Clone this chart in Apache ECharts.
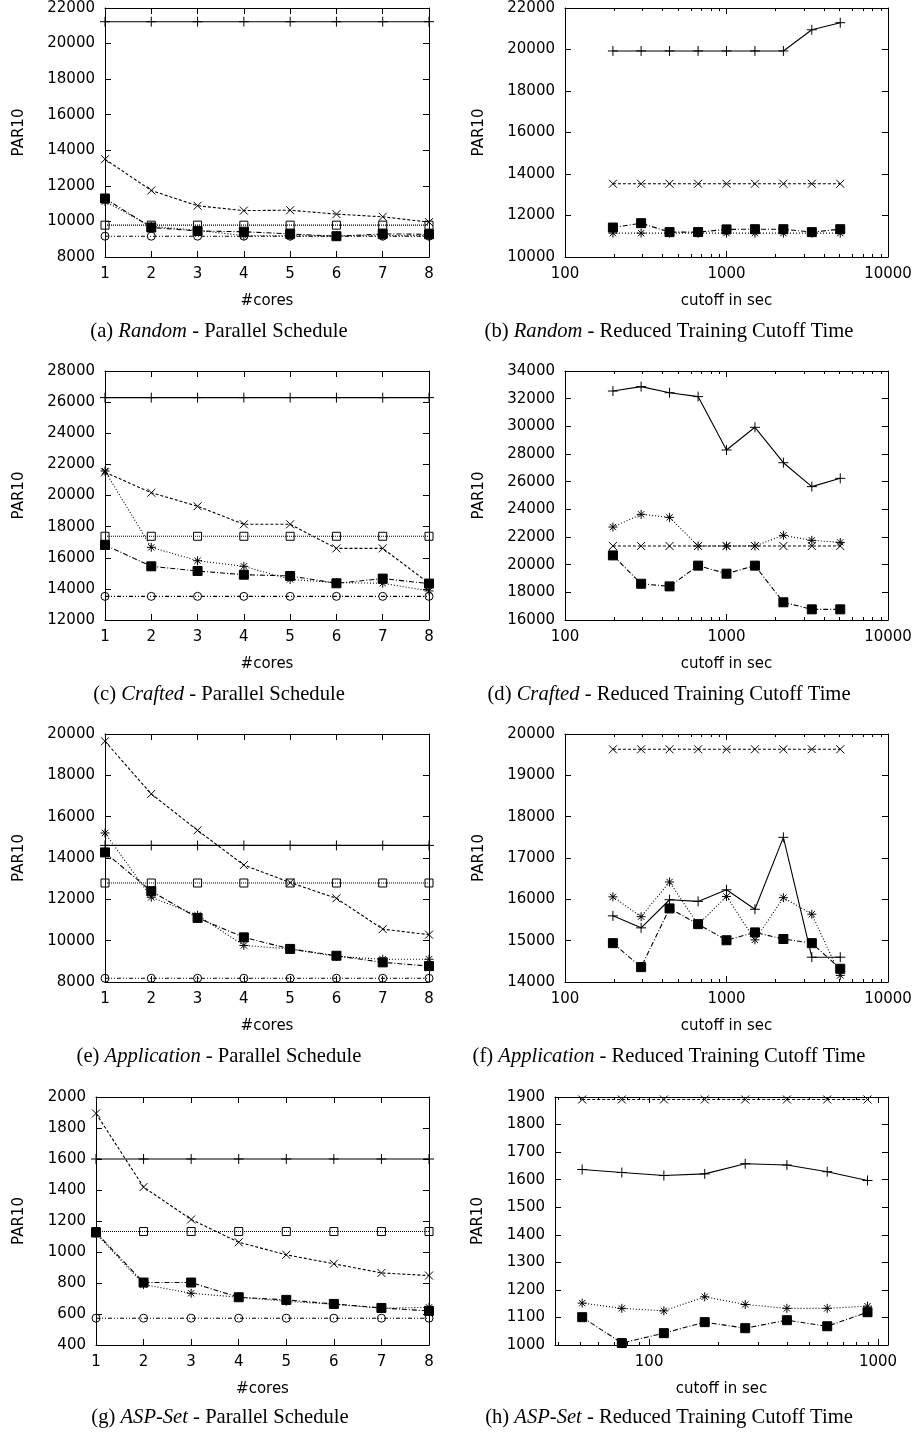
<!DOCTYPE html>
<html><head><meta charset="utf-8">
<script src="https://cdn.jsdelivr.net/npm/echarts@6/dist/echarts.min.js"></script>
<style>html,body{margin:0;padding:0;background:#fff}#c{width:917px;height:1433px}</style>
</head><body><div id="c"></div>
<script>
// ---------- x categories / tick values ----------
const coresX = [1, 2, 3, 4, 5, 6, 7, 8];
const cutoffX = [198, 296, 444, 667, 1000, 1500, 2250, 3375, 5063];
const cutoffXAsp = [51, 76, 116, 175, 263, 400, 600, 900];
const logMinorTicks = [40, 50, 60, 70, 80, 90, 200, 300, 400, 500, 600, 700, 800, 900,
  2000, 3000, 4000, 5000, 6000, 7000, 8000, 9000];

// ---------- (a) Random - Parallel Schedule ----------
const randomParPlus  = [21230, 21230, 21230, 21230, 21230, 21230, 21230, 21230];
const randomParCross = [13500, 11740, 10880, 10610, 10630, 10410, 10260, 9960];
const randomParStar  = [11120, 9720, 9500, 9200, 9190, 9190, 9200, 9200];
const randomParFSq   = [11290, 9660, 9460, 9420, 9300, 9170, 9300, 9280];
const randomParOSq   = [9790, 9790, 9790, 9790, 9790, 9790, 9790, 9790];
const randomParCirc  = [9170, 9170, 9170, 9170, 9170, 9170, 9170, 9170];

// ---------- (b) Random - Reduced Training Cutoff Time ----------
const randomCutPlus  = [19930, 19930, 19930, 19930, 19930, 19930, 19930, 20950, 21290];
const randomCutCross = [13530, 13530, 13530, 13530, 13530, 13530, 13530, 13530, 13530];
const randomCutStar  = [11150, 11150, 11150, 11150, 11150, 11150, 11150, 11150, 11150];
const randomCutFSq   = [11420, 11630, 11200, 11200, 11330, 11340, 11340, 11200, 11340];

// ---------- (c) Crafted - Parallel Schedule ----------
const craftedParPlus  = [26290, 26290, 26290, 26290, 26290, 26290, 26290, 26290];
const craftedParCross = [21490, 20180, 19310, 18150, 18150, 16600, 16600, 14360];
const craftedParStar  = [21570, 16670, 15810, 15450, 14610, 14400, 14360, 13870];
const craftedParFSq   = [16820, 15450, 15150, 14910, 14830, 14360, 14660, 14340];
const craftedParOSq   = [17380, 17380, 17380, 17380, 17380, 17380, 17380, 17380];
const craftedParCirc  = [13520, 13520, 13520, 13520, 13520, 13520, 13520, 13520];

// ---------- (d) Crafted - Reduced Training Cutoff Time ----------
const craftedCutPlus  = [32550, 32870, 32430, 32150, 28290, 29930, 27370, 25640, 26240];
const craftedCutCross = [21350, 21350, 21350, 21350, 21350, 21350, 21350, 21350, 21350];
const craftedCutStar  = [22720, 23640, 23420, 21350, 21350, 21350, 22120, 21760, 21610];
const craftedCutFSq   = [20670, 18620, 18430, 19930, 19350, 19930, 17280, 16770, 16770];

// ---------- (e) Application - Parallel Schedule ----------
const appParPlus  = [14610, 14610, 14610, 14610, 14610, 14610, 14610, 14610];
const appParCross = [19650, 17100, 15340, 13660, 12810, 12050, 10560, 10290];
const appParStar  = [15210, 12100, 11230, 9770, 9600, 9240, 9100, 9100];
const appParFSq   = [14270, 12390, 11100, 10160, 9600, 9270, 8950, 8770];
const appParOSq   = [12790, 12790, 12790, 12790, 12790, 12790, 12790, 12790];
const appParCirc  = [8180, 8180, 8180, 8180, 8180, 8180, 8180, 8180];

// ---------- (f) Application - Reduced Training Cutoff Time ----------
const appCutPlus  = [15600, 15310, 15990, 15950, 16230, 15760, 17500, 14600, 14600];
const appCutCross = [19630, 19630, 19630, 19630, 19630, 19630, 19630, 19630, 19630];
const appCutStar  = [16060, 15580, 16420, 15390, 16070, 15020, 16040, 15640, 14160];
const appCutFSq   = [14940, 14360, 15780, 15400, 15010, 15200, 15040, 14940, 14320];

// ---------- (g) ASP-Set - Parallel Schedule ----------
const aspParPlus  = [1600, 1600, 1600, 1600, 1600, 1600, 1600, 1600];
const aspParCross = [1894, 1419, 1210, 1063, 982, 924, 865, 848];
const aspParStar  = [1120, 790, 734, 708, 682, 663, 637, 643];
const aspParFSq   = [1126, 803, 803, 708, 691, 665, 639, 620];
const aspParOSq   = [1132, 1132, 1132, 1132, 1132, 1132, 1132, 1132];
const aspParCirc  = [573, 573, 573, 573, 573, 573, 573, 573];

// ---------- (h) ASP-Set - Reduced Training Cutoff Time ----------
const aspCutPlus  = [1637, 1626, 1615, 1621, 1658, 1653, 1629, 1597];
const aspCutCross = [1891, 1891, 1891, 1891, 1891, 1891, 1891, 1891];
const aspCutStar  = [1152, 1133, 1124, 1175, 1147, 1133, 1133, 1141];
const aspCutFSq   = [1101, 1007, 1043, 1083, 1061, 1090, 1068, 1119];

// ---------- styles ----------
const STY = {
  plus:  { symbol: 'path://M0,5L10,5M5,0L5,10', size: 10, fill: 'rgba(0,0,0,0)', dash: 'solid' },
  cross: { symbol: 'path://M0,0L10,10M10,0L0,10', size: 8, fill: 'rgba(0,0,0,0)', dash: [3, 2] },
  star:  { symbol: 'path://M0,5L10,5M5,0L5,10M1.5,1.5L8.5,8.5M8.5,1.5L1.5,8.5', size: 9, fill: 'rgba(0,0,0,0)', dash: [1, 2] },
  fsq:   { symbol: 'rect', size: 9, fill: '#000', dash: [5, 2, 1, 2] },
  osq:   { symbol: 'rect', size: 8, fill: 'rgba(0,0,0,0)', dash: [1, 1] },
  circ:  { symbol: 'circle', size: 8, fill: 'rgba(0,0,0,0)', dash: [4, 2, 1, 2, 1, 2] }
};

const FONT = { fontFamily: 'DejaVu Sans', fontSize: 15, color: '#000' };

const panels = [
  { grid: { left: 105, top: 8, width: 324, height: 249 }, log: false, xMin: 1, xMax: 8, yMin: 8000, yMax: 22000, yInt: 2000,
    xs: coresX, xName: '#cores', yGap: 78,
    series: [['plus', randomParPlus], ['cross', randomParCross], ['star', randomParStar], ['fsq', randomParFSq], ['osq', randomParOSq], ['circ', randomParCirc]],
    cap: { x: 219, y: 332, a: '(a) ', i: 'Random', b: ' - Parallel Schedule' } },
  { grid: { left: 565, top: 8, width: 323, height: 249 }, log: true, xMin: 100, xMax: 10000, yMin: 10000, yMax: 22000, yInt: 2000,
    xs: cutoffX, xName: 'cutoff in sec', yGap: 78,
    series: [['plus', randomCutPlus], ['cross', randomCutCross], ['star', randomCutStar], ['fsq', randomCutFSq]],
    cap: { x: 669, y: 332, a: '(b) ', i: 'Random', b: ' - Reduced Training Cutoff Time' } },
  { grid: { left: 105, top: 371, width: 324, height: 249 }, log: false, xMin: 1, xMax: 8, yMin: 12000, yMax: 28000, yInt: 2000,
    xs: coresX, xName: '#cores', yGap: 78,
    series: [['plus', craftedParPlus], ['cross', craftedParCross], ['star', craftedParStar], ['fsq', craftedParFSq], ['osq', craftedParOSq], ['circ', craftedParCirc]],
    cap: { x: 219, y: 695, a: '(c) ', i: 'Crafted', b: ' - Parallel Schedule' } },
  { grid: { left: 565, top: 371, width: 323, height: 249 }, log: true, xMin: 100, xMax: 10000, yMin: 16000, yMax: 34000, yInt: 2000,
    xs: cutoffX, xName: 'cutoff in sec', yGap: 78,
    series: [['plus', craftedCutPlus], ['cross', craftedCutCross], ['star', craftedCutStar], ['fsq', craftedCutFSq]],
    cap: { x: 669, y: 695, a: '(d) ', i: 'Crafted', b: ' - Reduced Training Cutoff Time' } },
  { grid: { left: 105, top: 734, width: 324, height: 248 }, log: false, xMin: 1, xMax: 8, yMin: 8000, yMax: 20000, yInt: 2000,
    xs: coresX, xName: '#cores', yGap: 78,
    series: [['plus', appParPlus], ['cross', appParCross], ['star', appParStar], ['fsq', appParFSq], ['osq', appParOSq], ['circ', appParCirc]],
    cap: { x: 219, y: 1057, a: '(e) ', i: 'Application', b: ' - Parallel Schedule' } },
  { grid: { left: 565, top: 734, width: 323, height: 248 }, log: true, xMin: 100, xMax: 10000, yMin: 14000, yMax: 20000, yInt: 1000,
    xs: cutoffX, xName: 'cutoff in sec', yGap: 78,
    series: [['plus', appCutPlus], ['cross', appCutCross], ['star', appCutStar], ['fsq', appCutFSq]],
    cap: { x: 669, y: 1057, a: '(f) ', i: 'Application', b: ' - Reduced Training Cutoff Time' } },
  { grid: { left: 96, top: 1097, width: 333, height: 248 }, log: false, xMin: 1, xMax: 8, yMin: 400, yMax: 2000, yInt: 200,
    xs: coresX, xName: '#cores', yGap: 69,
    series: [['plus', aspParPlus], ['cross', aspParCross], ['star', aspParStar], ['fsq', aspParFSq], ['osq', aspParOSq], ['circ', aspParCirc]],
    cap: { x: 220, y: 1418, a: '(g) ', i: 'ASP-Set', b: ' - Parallel Schedule' } },
  { grid: { left: 555, top: 1097, width: 333, height: 248 }, log: true, xMin: 38.8, xMax: 1106, yMin: 1000, yMax: 1900, yInt: 100,
    xs: cutoffXAsp, xName: 'cutoff in sec', yGap: 69,
    series: [['plus', aspCutPlus], ['cross', aspCutCross], ['star', aspCutStar], ['fsq', aspCutFSq]],
    cap: { x: 669, y: 1418, a: '(h) ', i: 'ASP-Set', b: ' - Reduced Training Cutoff Time' } }
];

const option = { animation: false, backgroundColor: '#fff', grid: [], xAxis: [], yAxis: [], series: [], graphic: [] };

function isPow10(v) { const l = Math.log10(v); return Math.abs(l - Math.round(l)) < 1e-6; }
const lineCol = { color: '#000', width: 1 };

panels.forEach(function (p, k) {
  option.grid.push(Object.assign({ containLabel: false }, p.grid));
  const xBase = p.log
    ? { type: 'log', logBase: 10, min: p.xMin, max: p.xMax }
    : { type: 'value', min: p.xMin, max: p.xMax, interval: 1 };
  // bottom x axis
  option.xAxis.push(Object.assign({}, xBase, {
    gridIndex: k, position: 'bottom',
    name: p.xName, nameLocation: 'middle', nameGap: 37, nameTextStyle: FONT,
    axisLine: { show: true, onZero: false, lineStyle: lineCol },
    axisTick: { show: true, inside: true, length: 6, lineStyle: lineCol },
    axisLabel: Object.assign({ margin: 10, interval: 0, hideOverlap: false,
      formatter: function (v) { return p.log ? (isPow10(v) ? String(Math.round(v)) : '') : String(v); } }, FONT),
    splitLine: { show: false }, minorTick: { show: false }
  }));
  // top mirror x axis
  option.xAxis.push(Object.assign({}, xBase, {
    gridIndex: k, position: 'top',
    axisLine: { show: true, onZero: false, lineStyle: lineCol },
    axisTick: { show: true, inside: true, length: 6, lineStyle: lineCol },
    axisLabel: { show: false }, splitLine: { show: false }
  }));
  const yBase = { type: 'value', min: p.yMin, max: p.yMax, interval: p.yInt };
  option.yAxis.push(Object.assign({}, yBase, {
    gridIndex: k, position: 'left',
    name: 'PAR10', nameLocation: 'middle', nameRotate: 90, nameGap: p.yGap, nameTextStyle: FONT,
    axisLine: { show: true, onZero: false, lineStyle: lineCol },
    axisTick: { show: true, inside: true, length: 6, lineStyle: lineCol },
    axisLabel: Object.assign({ margin: 10, formatter: function (v) { return String(v); } }, FONT),
    splitLine: { show: false }
  }));
  option.yAxis.push(Object.assign({}, yBase, {
    gridIndex: k, position: 'right',
    axisLine: { show: true, onZero: false, lineStyle: lineCol },
    axisTick: { show: true, inside: true, length: 6, lineStyle: lineCol },
    axisLabel: { show: false }, splitLine: { show: false }
  }));

  p.series.forEach(function (s) {
    const st = STY[s[0]];
    option.series.push({
      type: 'line', xAxisIndex: 2 * k, yAxisIndex: 2 * k,
      data: p.xs.map(function (x, i) { return [x, s[1][i]]; }),
      symbol: st.symbol, symbolSize: st.size, showAllSymbol: true, clip: false,
      itemStyle: { color: st.fill, borderColor: '#000', borderWidth: 1 },
      lineStyle: { color: '#000', width: 1.1, type: st.dash },
      emphasis: { disabled: true }, silent: true, z: 3
    });
  });

  if (p.log) {
    const ticks = logMinorTicks.filter(function (v) { return v > p.xMin && v < p.xMax; });
    option.series.push({
      type: 'custom', xAxisIndex: 2 * k, yAxisIndex: 2 * k, silent: true, clip: false, z: 4,
      data: ticks.map(function (v) { return [v, p.yMin]; }),
      renderItem: function (params, api) {
        const cs = params.coordSys;
        const x = Math.round(api.coord([api.value(0), api.value(1)])[0]) + 0.5;
        const yb = cs.y + cs.height, yt = cs.y;
        return { type: 'group', children: [
          { type: 'line', shape: { x1: x, y1: yb, x2: x, y2: yb - 3 }, style: { stroke: '#000', lineWidth: 1 } },
          { type: 'line', shape: { x1: x, y1: yt, x2: x, y2: yt + 3 }, style: { stroke: '#000', lineWidth: 1 } }
        ] };
      }
    });
  }

  option.graphic.push({
    type: 'text', x: p.cap.x, y: p.cap.y, silent: true,
    style: {
      text: '{n|' + p.cap.a + '}{i|' + p.cap.i + '}{n|' + p.cap.b + '}',
      align: 'center', verticalAlign: 'middle',
      rich: {
        n: { fontFamily: 'Liberation Serif', fontSize: 20.6, fill: '#000', color: '#000' },
        i: { fontFamily: 'Liberation Serif', fontSize: 20.6, fontStyle: 'italic', fill: '#000', color: '#000' }
      }
    }
  });
});

const chart = echarts.init(document.getElementById('c'), null, { renderer: 'canvas' });
chart.setOption(option);
</script>
</body></html>
